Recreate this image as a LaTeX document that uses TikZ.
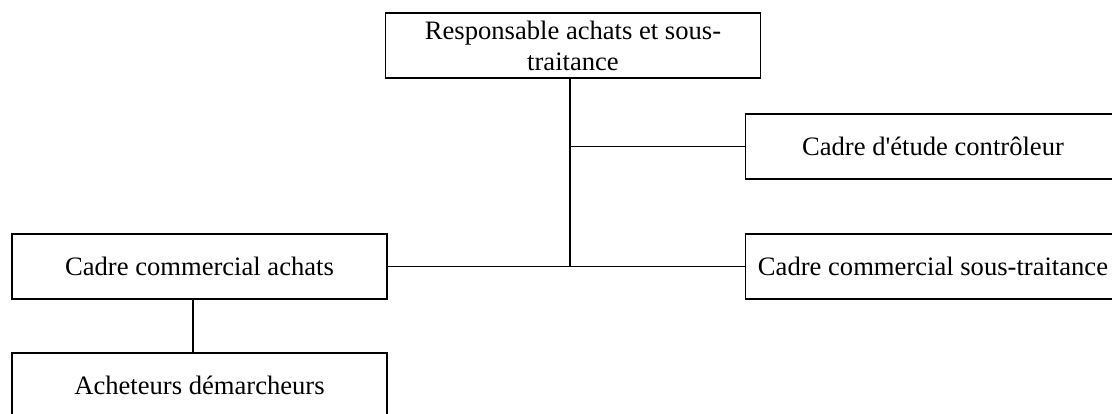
\documentclass[tikz,border=0pt]{standalone}
\usepackage{fontspec}
\setmainfont{Liberation Serif}
\usetikzlibrary{positioning}
\tikzset{
	poste/.style = {draw, line width=1.8pt, inner sep=0pt, minimum width=375pt, minimum height=65pt, align=center, font=\fontsize{26.6pt}{31pt}\selectfont},
	lien/.style = {line width=1.8pt}
}
\begin{document}
\begin{tikzpicture}[x=1pt,y=-1pt]
    \useasboundingbox (0,0) rectangle (1112,414);
    \clip (0,0) rectangle (1112,414);
    % Nodes
    \node (resp) [poste] at (573,45.5) {Responsable achats et sous-\\traitance};
    \node (etude) [poste] at (933,146.5) {Cadre d\textquotesingle étude contrôleur};
    \node (achats) [poste] at (199.5,266.5) {Cadre commercial achats};
    \node (soustr) [poste] at (933,266.5) {Cadre commercial sous-traitance};
    \node (acheteurs) [poste] at (199.5,385.5) {Acheteurs démarcheurs};
    \coordinate (j1) at (570,146.5);
    \coordinate (j2) at (570,266.5);
    \coordinate (k) at (193,326);

    % Lines
    \draw [lien] (resp.south -| j1) to (j2);
    \draw [lien] (j1) to (etude.west);
    \draw [lien] (achats.east) to (soustr.west);
    \draw [lien] (achats.south -| k) to (acheteurs.north -| k);
\end{tikzpicture}
\end{document}
